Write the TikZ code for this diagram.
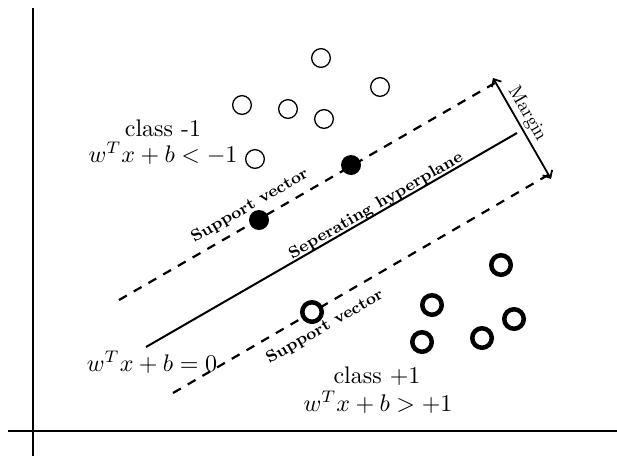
\documentclass[tikz,border=0pt]{standalone}
\usepackage{graphicx}
\usetikzlibrary{arrows.meta}
\newcommand{\bigtxt}[1]{\scalebox{2.4}{#1}}
\newcommand{\rottxt}[1]{\scalebox{2.05}{\fontsize{8}{9}\selectfont\bfseries #1}}
\begin{document}
\begin{tikzpicture}[x=1pt,y=-1pt,
  axis/.style={line width=2pt},
  hyper/.style={line width=2pt},
  marginline/.style={line width=2.2pt, dash pattern=on 9pt off 8pt},
  negpt/.style={circle, draw, line width=1.3pt, minimum size=18.7pt, inner sep=0pt, fill=white},
  pospt/.style={circle, draw, line width=4.5pt, minimum size=19.5pt, inner sep=0pt, fill=white},
  svpt/.style={circle, fill=black, minimum size=20pt, inner sep=0pt},
  bigtext/.style={inner sep=0pt},
  rotlab/.style={inner sep=0pt},
  marginarrow/.style={line width=1.8pt, {Straight Barb[length=6pt,width=11pt]}-{Straight Barb[length=6pt,width=11pt]}}
]
\useasboundingbox (0,0) rectangle (617,456);
% axes
\coordinate (yaxtop) at (33,8);
\coordinate (yaxbot) at (33,456);
\coordinate (xaxl) at (8,431);
\coordinate (xaxr) at (617,431);
\draw[axis] (yaxtop) -- (yaxbot);
\draw[axis] (xaxl) -- (xaxr);
% lines
\coordinate (ua) at (119,300);
\coordinate (ub) at (495,83);
\coordinate (ha) at (146,347);
\coordinate (hb) at (517,133);
\coordinate (la) at (173,393);
\coordinate (lb) at (548,175);
\draw[marginline] (ua) -- (ub);
\draw[hyper] (ha) -- (hb);
\draw[marginline] (la) -- (lb);
% margin arrow
\coordinate (ma) at (493,78);
\coordinate (mb) at (551,179);
\draw[marginarrow] (ma) -- (mb);
% class -1 points
\node[negpt] (n1) at (321,58) {};
\node[negpt] (n2) at (242,105) {};
\node[negpt] (n3) at (288,109) {};
\node[negpt] (n4) at (324,119) {};
\node[negpt] (n5) at (380,87) {};
\node[negpt] (n6) at (255,159) {};
% support vectors
\node[svpt] (s1) at (351,165) {};
\node[svpt] (s2) at (259,220) {};
\node[pospt] (s3) at (312,312) {};
% class +1 points
\node[pospt] (p1) at (501,265) {};
\node[pospt] (p2) at (432,305) {};
\node[pospt] (p3) at (422,342) {};
\node[pospt] (p4) at (482,338) {};
\node[pospt] (p5) at (514,319) {};
% labels
\node[bigtext] (cneg) at (163,128) {\bigtxt{class -1}};
\node[bigtext] (eqneg) at (163,153) {\bigtxt{$w^Tx+b<-1$}};
\node[bigtext] (eqzero) at (152,362) {\bigtxt{$w^Tx+b=0$}};
\node[bigtext] (cpos) at (377,376) {\bigtxt{class +1}};
\node[bigtext] (eqpos) at (378,402) {\bigtxt{$w^Tx+b>+1$}};
\node[rotlab, rotate=30] (svup) at (250,206) {\rottxt{Support vector}};
\node[rotlab, rotate=30] (svlow) at (325,327) {\rottxt{Support vector}};
\node[rotlab, rotate=30] (hyp) at (376,206) {\rottxt{Seperating hyperplane}};
\node[inner sep=0pt, rotate=-60] (marg) at (527,114) {\scalebox{1.9}{Margin}};
\end{tikzpicture}
\end{document}
